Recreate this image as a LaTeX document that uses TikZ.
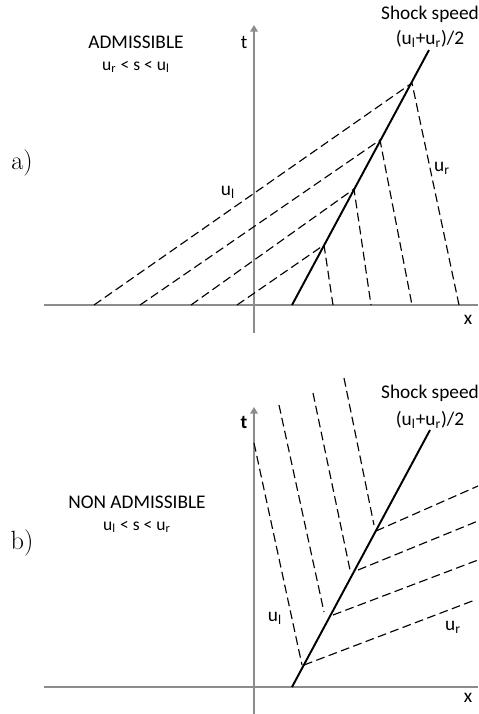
\documentclass[tikz,border=0pt]{standalone}
\usepackage{fontspec}
\usepackage{xcolor}
\usetikzlibrary{arrows.meta,positioning}
\newfontfamily\calibfont{Carlito}
\definecolor{axisgray}{RGB}{140,140,140}
\newcommand{\uL}{u\textsubscript{l}}
\newcommand{\uR}{u\textsubscript{r}}
\tikzset{
  axis/.style={axisgray, line width=0.8pt},
  axisarrow/.style={axis, -{Triangle[length=1.3mm, width=1.5mm]}},
  shock/.style={black, line width=1.1pt},
  charline/.style={black, line width=0.65pt, dash pattern=on 5pt off 2.5pt},
  label/.style={font=\calibfont\fontsize{11}{13}\selectfont, inner sep=0pt},
  sublabel/.style={font=\calibfont\fontsize{10}{12}\selectfont, inner sep=0pt},
  panel/.style={font=\fontsize{15}{17}\selectfont, inner sep=0pt},
}

\begin{document}
\begin{tikzpicture}[x=0.02cm, y=-0.02cm]
\useasboundingbox (0,0) rectangle (478,714);

% a) admissible shock
\coordinate (xa0) at (44,305);
\coordinate (xa1) at (478,305);
\coordinate (ta0) at (254,333);
\coordinate (ta1) at (254,25);
\draw[axis] (xa0) -- (xa1);
\draw[axisarrow] (ta0) -- (ta1);
\node[label] (ta) at (244,42) {t};
\node[label] (xa) at (468,320) {x};
\coordinate (sa0) at (292,305);
\coordinate (sa1) at (429,50);
\draw[shock] (sa0) -- (sa1);
\foreach \i/\px/\py/\lx/\rx in {1/324/245/237/333, 2/354/189/191/371, 3/380/140/140/412, 4/412/83/94/459} {
  \coordinate (pa\i) at (\px,\py);
  \coordinate (la\i) at (\lx,305);
  \coordinate (ra\i) at (\rx,305);
  \draw[charline] (la\i) -- (pa\i) -- (ra\i);
}
\node[label] (ula) at (228,192) {\uL};
\node[label] (ura) at (442,168) {\uR};
\node[label] (adm) at (136,42) {ADMISSIBLE};
\node[sublabel] (conda) at (136,67) {\uR{} < s < \uL};
\node[label] (spa) at (430,14) {Shock speed};
\node[label] (spfa) at (430,39) {(\uL+\uR)/2};
\node[panel] (pa) at (22,163) {a)};

% b) non admissible shock
\coordinate (xb0) at (44,687);
\coordinate (xb1) at (478,687);
\coordinate (tb0) at (254,714);
\coordinate (tb1) at (254,407);
\draw[axis] (xb0) -- (xb1);
\draw[axisarrow] (tb0) -- (tb1);
\node[label, font=\calibfont\bfseries\fontsize{11}{13}\selectfont] (tb) at (244,422) {t};
\node[label] (xb) at (468,698) {x};
\coordinate (sb0) at (292,687);
\coordinate (sb1) at (430,430);
\draw[shock] (sb0) -- (sb1);
\foreach \i/\ux/\uy/\dx/\dy in {1/254/443/302/665, 2/279/405/324/612, 3/313/393/350/570, 4/344/378/374/525}
  \draw[charline] (\ux,\uy) coordinate (ub\i) -- (\dx,\dy) coordinate (db\i);
\foreach \i/\px/\py/\rx/\ry in {1/304/665/475/600, 2/333/615/478/560, 3/358/570/478/521, 4/376/531/478/486}
  \draw[charline] (\px,\py) coordinate (pb\i) -- (\rx,\ry) coordinate (rb\i);
\node[label] (ulb) at (275,618) {\uL};
\node[label] (urb) at (453,627) {\uR};
\node[label] (nadm) at (137,502) {NON ADMISSIBLE};
\node[sublabel] (condb) at (137,527) {\uL{} < s < \uR};
\node[label] (spb) at (430,393) {Shock speed};
\node[label] (spfb) at (430,420) {(\uL+\uR)/2};
\node[panel] (pb) at (22,543) {b)};
\end{tikzpicture}
\end{document}
